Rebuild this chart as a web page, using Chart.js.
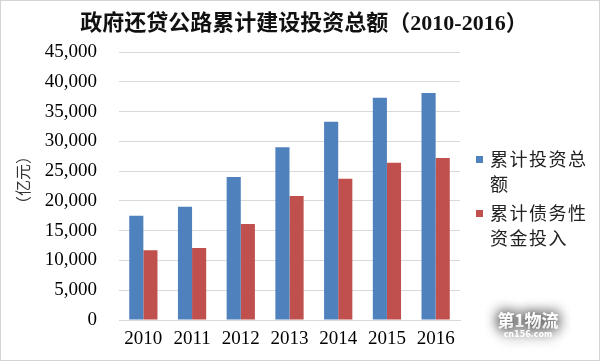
<!DOCTYPE html>
<html>
<head>
<meta charset="utf-8">
<script src="https://cdn.jsdelivr.net/npm/chart.js@4/dist/chart.umd.min.js"></script>
<style>
  html, body { margin: 0; padding: 0; background: #fff; }
  #wrap { width: 598px; height: 359px; border: 1px solid #d4d4d4; }
  canvas { display: block; }
</style>
</head>
<body>
<div id="wrap"><canvas id="c" width="598" height="359"></canvas></div>
<script>
const chartTitle = '政府还贷公路累计建设投资总额（2010-2016）';
const yAxisTitle = '（亿元）';
const categories = ['2010', '2011', '2012', '2013', '2014', '2015', '2016'];
const seriesNames = ['累计投资总额', '累计债务性资金投入'];
const totalInvestment = [17500, 19000, 24000, 29000, 33300, 37300, 38100];
const debtFunds = [11700, 12100, 16100, 20800, 23700, 26400, 27200];
const seriesColors = ['#4F81BD', '#C0504D'];
const yMin = 0, yMax = 45000, yStep = 5000;

const overlay = {
  id: 'overlay',
  afterDraw(chart) {
    const ctx = chart.ctx;
    ctx.save();
    // title
    ctx.fillStyle = '#111';
    ctx.font = "bold 22px 'Liberation Serif', 'Noto Sans CJK SC'";
    ctx.textAlign = 'center';
    ctx.textBaseline = 'middle';
    ctx.fillText(chartTitle, 303, 23);
    // y axis title
    ctx.save();
    ctx.translate(22, 179);
    ctx.rotate(-Math.PI / 2);
    ctx.font = "16px 'Noto Sans CJK SC'";
    ctx.fillStyle = '#333';
    ctx.fillText(yAxisTitle, 0, 0);
    ctx.restore();
    // legend
    ctx.textAlign = 'left';
    ctx.textBaseline = 'middle';
    ctx.font = "18px 'Noto Sans CJK SC'";
    const maxW = 96;
    let y = 158;
    chart.data.datasets.forEach((ds, i) => {
      ctx.fillStyle = ds.backgroundColor;
      ctx.fillRect(475, y - 3, 7, 7);
      ctx.fillStyle = '#222';
      let lines = [], cur = '';
      for (const ch of ds.label) {
        if (ctx.measureText(cur + ch).width > maxW && cur) { lines.push(cur); cur = ch; }
        else cur += ch;
      }
      if (cur) lines.push(cur);
      lines.forEach((ln, k) => {
        ctx.save();
        ctx.letterSpacing = '1.5px';
        ctx.fillText(ln, 489, y + k * 25);
        ctx.restore();
      });
      y += 54;
    });
    // watermark
    ctx.textAlign = 'center';
    ctx.shadowColor = 'rgba(0,0,0,0.85)';
    ctx.shadowBlur = 14;
    ctx.fillStyle = '#fff';
    ctx.font = "bold 17px 'Noto Sans CJK SC'";
    ctx.fillText('第1物流', 527, 320);
    ctx.fillText('第1物流', 527, 320);
    ctx.font = "bold 8px 'DejaVu Sans'";
    ctx.fillText('cn156.com', 527, 334);
    ctx.restore();
  }
};

new Chart(document.getElementById('c'), {
  type: 'bar',
  data: {
    labels: categories,
    datasets: [
      { label: seriesNames[0], data: totalInvestment, backgroundColor: seriesColors[0] },
      { label: seriesNames[1], data: debtFunds, backgroundColor: seriesColors[1] }
    ]
  },
  options: {
    responsive: false,
    animation: false,
    devicePixelRatio: 1,
    layout: { padding: { top: 51, right: 139, bottom: 0, left: 0 } },
    datasets: { bar: { categoryPercentage: 0.58, barPercentage: 1.0 } },
    plugins: { legend: { display: false }, title: { display: false }, tooltip: { enabled: false } },
    scales: {
      x: {
        grid: { display: false, drawTicks: false },
        border: { display: true, color: '#d9d9d9' },
        ticks: { color: '#000', font: { family: "'Liberation Serif'", size: 19 }, padding: 8, maxRotation: 0 },
        afterFit(s) { s.height = 40; }
      },
      y: {
        min: yMin, max: yMax,
        grid: { color: '#d9d9d9', drawTicks: false },
        border: { display: false },
        ticks: {
          stepSize: yStep, color: '#000', padding: 22,
          font: { family: "'Liberation Serif'", size: 19 },
          callback: v => v.toLocaleString('en-US')
        },
        afterFit(s) { s.width = 118; }
      }
    }
  },
  plugins: [overlay]
});
</script>
</body>
</html>
